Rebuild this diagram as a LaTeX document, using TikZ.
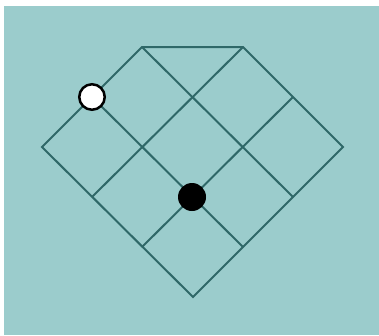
\documentclass[tikz,border=0pt]{standalone}
\definecolor{bg}{HTML}{9BCCCC}
\definecolor{ln}{HTML}{2F6868}
\begin{document}
\begin{tikzpicture}[x=1pt,y=-1pt,
  grid/.style={draw=ln,line width=2pt},
  wdot/.style={circle,draw=black,fill=white,line width=2.5pt,minimum size=25.5pt,inner sep=0pt},
  bdot/.style={circle,fill=black,minimum size=28pt,inner sep=0pt}]
\useasboundingbox (0,0) rectangle (379,335);
\fill[bg] (4,6) rectangle (379,335);
\coordinate (t1) at (142,47);
\coordinate (t2) at (243,47);
\coordinate (l) at (42,147);
\coordinate (r) at (343,147);
\coordinate (b) at (193,297);
\coordinate (ul) at (92,97);
\coordinate (ll1) at (92,197);
\coordinate (ll2) at (142,247);
\coordinate (ur) at (293,97);
\coordinate (lr1) at (293,197);
\coordinate (lr2) at (243,247);
\draw[grid] (l) -- (t1) -- (t2) -- (r) -- (b) -- cycle;
\draw[grid] (t1) -- (lr1);
\draw[grid] (ul) -- (lr2);
\draw[grid] (ll1) -- (t2);
\draw[grid] (ll2) -- (ur);
\node[wdot] (w) at (ul) {};
\node[bdot] (k) at (192,197) {};
\end{tikzpicture}
\end{document}
